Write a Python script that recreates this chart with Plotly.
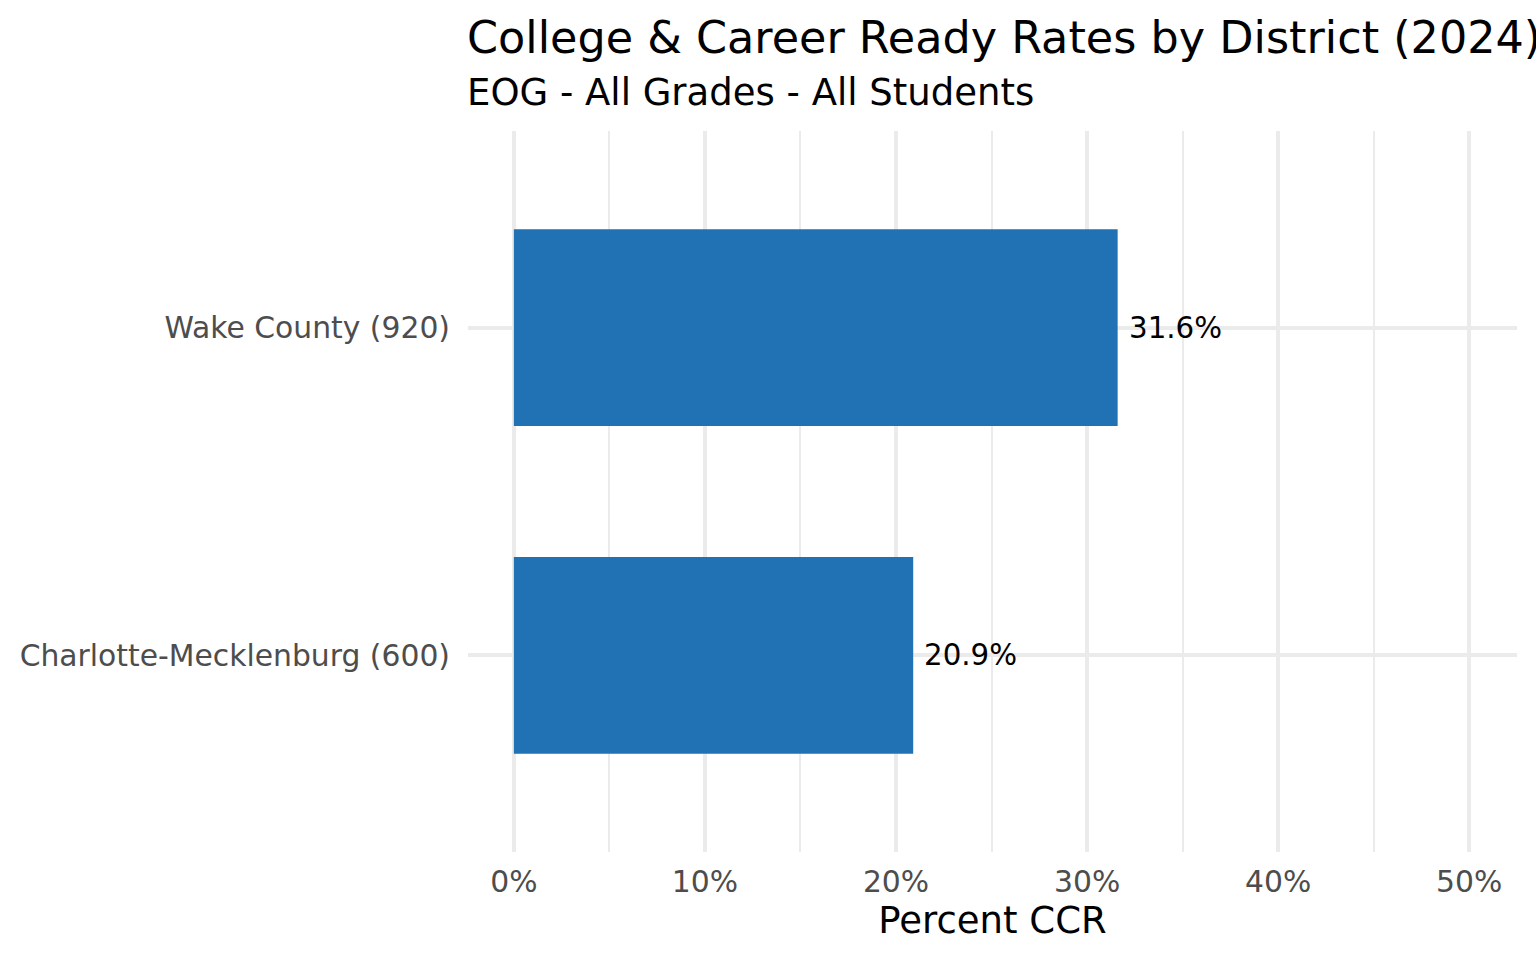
import plotly.graph_objects as go

districts = ["Charlotte-Mecklenburg (600)", "Wake County (920)"]
ccr_rate = [0.209, 0.316]
label_text = ["20.9%", "31.6%"]
x_tick_vals = [0, 0.1, 0.2, 0.3, 0.4, 0.5]
x_tick_text = ["0%", "10%", "20%", "30%", "40%", "50%"]
x_minor_vals = [0.05, 0.15, 0.25, 0.35, 0.45]

title = "College & Career Ready Rates by District (2024)"
subtitle = "EOG - All Grades - All Students"
x_title = "Percent CCR"

FONT = "DejaVu Sans"
W, H = 1536, 960
L, R, T, B = 468, 19, 131, 108

fig = go.Figure()
fig.add_trace(go.Bar(
    x=ccr_rate, y=districts, orientation="h",
    marker=dict(color="#2171b5", line=dict(width=0)),
    width=0.6, hoverinfo="skip",
))

for v, d, t in zip(ccr_rate, districts, label_text):
    fig.add_annotation(x=v, y=d, xref="x", yref="y", text=t, showarrow=False,
                       xanchor="left", yanchor="middle", xshift=9,
                       font=dict(family=FONT, size=29.3, color="black"))

fig.add_annotation(x=0, y=1, xref="paper", yref="paper", text=title, showarrow=False,
                   xanchor="left", yanchor="bottom", yshift=66, xshift=-3,
                   font=dict(family=FONT, size=44.5, color="black"))
fig.add_annotation(x=0, y=1, xref="paper", yref="paper", text=subtitle, showarrow=False,
                   xanchor="left", yanchor="bottom", yshift=15, xshift=-3,
                   font=dict(family=FONT, size=37, color="black"))

fig.update_layout(
    width=W, height=H,
    margin=dict(l=L, r=R, t=T, b=B),
    paper_bgcolor="white", plot_bgcolor="white",
    showlegend=False,
    bargap=0.4,
    font=dict(family=FONT),
    xaxis=dict(
        range=[-0.024, 0.525],
        tickvals=x_tick_vals, ticktext=x_tick_text,
        showgrid=True, gridcolor="#ebebeb", gridwidth=3.5,
        minor=dict(tickvals=x_minor_vals, showgrid=True, gridcolor="#ebebeb", gridwidth=2),
        zeroline=False, showline=False, ticks="",
        tickfont=dict(family=FONT, size=29.8, color="#4d4d4d"),
        ticklabelstandoff=9,
        title=dict(text=x_title, font=dict(family=FONT, size=37, color="black"), standoff=9),
        fixedrange=True,
    ),
    yaxis=dict(
        range=[-0.6, 1.6],
        categoryorder="array", categoryarray=districts,
        showgrid=True, gridcolor="#ebebeb", gridwidth=3.5,
        zeroline=False, showline=False, ticks="",
        tickfont=dict(family=FONT, size=29.8, color="#4d4d4d"),
        ticklabelstandoff=17,
        fixedrange=True,
    ),
)

fig.write_html("out.html", config={"displayModeBar": False},
               post_script="document.body.style.margin='0';")
